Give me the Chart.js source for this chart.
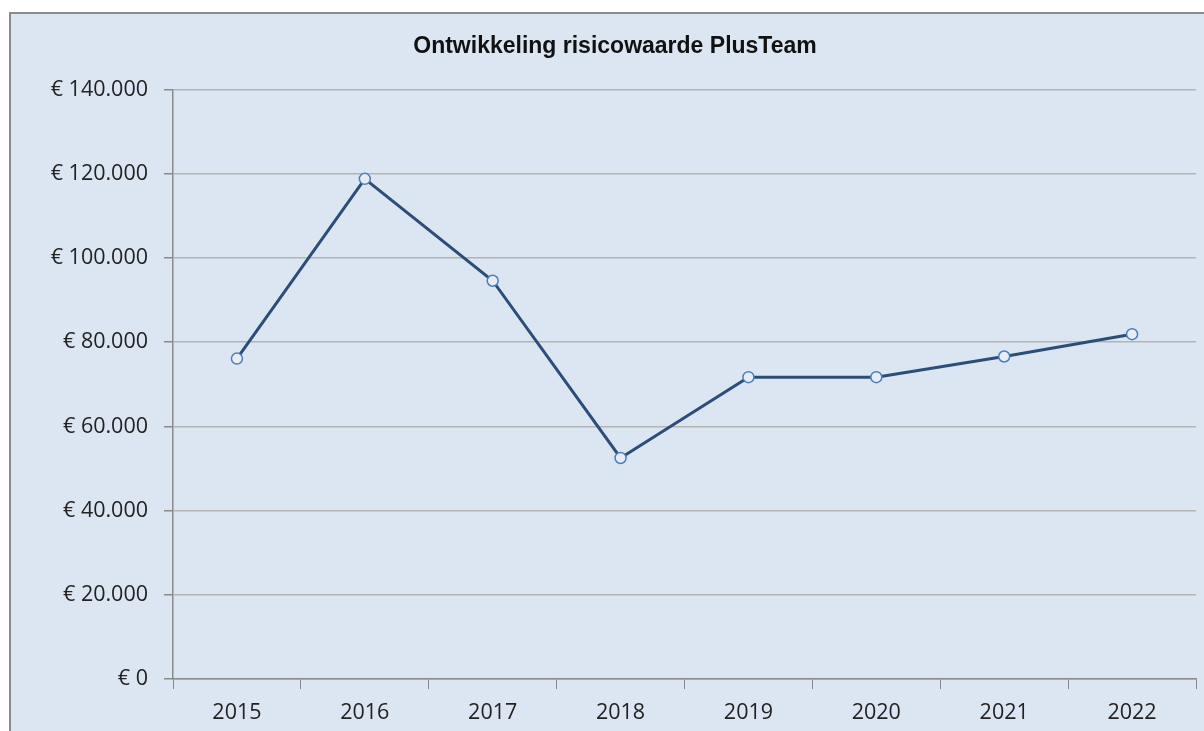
<!DOCTYPE html>
<html>
<head>
<meta charset="utf-8">
<script src="https://cdn.jsdelivr.net/npm/chart.js@4"></script>
<style>
  html, body { margin: 0; padding: 0; background: #ffffff; }
  canvas { display: block; }
</style>
</head>
<body>
<canvas id="grafiek" width="1204" height="731"></canvas>
<script>
const jaren = ["2015", "2016", "2017", "2018", "2019", "2020", "2021", "2022"];
const risicowaarde = [76100, 118800, 94600, 52500, 71700, 71700, 76600, 81900];
const titel = "Ontwikkeling risicowaarde PlusTeam";

function euro(v) {
    return "€ " + String(v).replace(/\B(?=(\d{3})+(?!\d))/g, ".");
}

// achtergrond met rand zoals in Excel
const achtergrond = {
    id: "achtergrond",
    beforeDraw(chart) {
        const c = chart.ctx;
        c.save();
        c.fillStyle = "#ffffff";
        c.fillRect(0, 0, chart.width, chart.height);
        c.fillStyle = "#dce6f2";
        c.fillRect(10, 13, chart.width - 10, chart.height - 13);
        c.strokeStyle = "#8c8c8c";
        c.lineWidth = 2;
        c.beginPath();
        c.moveTo(10, chart.height);
        c.lineTo(10, 13);
        c.lineTo(chart.width, 13);
        c.stroke();
        c.restore();
    }
};

const ctx = document.getElementById("grafiek").getContext("2d");
new Chart(ctx, {
    type: "line",
    data: {
        labels: jaren,
        datasets: [{
            label: "Risicowaarde",
            data: risicowaarde,
            borderColor: "#2c4d77",
            borderWidth: 3,
            pointRadius: 5.5,
            pointBorderWidth: 1.5,
            pointBorderColor: "#4a7ebb",
            pointBackgroundColor: "#e6edf7",
            tension: 0,
            fill: false
        }]
    },
    options: {
        responsive: false,
        animation: false,
        devicePixelRatio: 1,
        layout: { padding: { left: 34, right: 8, top: 13, bottom: 0 } },
        plugins: {
            legend: { display: false },
            tooltip: { enabled: false },
            title: {
                display: true,
                text: titel,
                color: "#111111",
                font: { family: "Liberation Sans", size: 23, weight: "bold" },
                padding: { top: 20, bottom: 29 }
            }
        },
        scales: {
            x: {
                offset: true,
                grid: {
                    offset: true,
                    drawOnChartArea: false,
                    tickLength: 10,
                    color: "#8a8a8a"
                },
                border: { color: "#8a8a8a", width: 1.5 },
                ticks: {
                    color: "#222222",
                    padding: 11,
                    font: { family: "Open Sans", size: 21.5 }
                },
                afterFit(s) { s.height = 52; }
            },
            y: {
                min: 0,
                max: 140000,
                ticks: {
                    stepSize: 20000,
                    color: "#222222",
                    padding: 16,
                    font: { family: "Open Sans", size: 21.5 },
                    callback: (v) => euro(v)
                },
                grid: {
                    color: "#b4b4b4",
                    tickColor: "#8a8a8a",
                    tickLength: 9,
                    lineWidth: 1.5
                },
                border: { color: "#8a8a8a", width: 1.5 },
                afterFit(s) { s.width = 139; }
            }
        }
    },
    plugins: [achtergrond]
});
</script>
</body>
</html>
